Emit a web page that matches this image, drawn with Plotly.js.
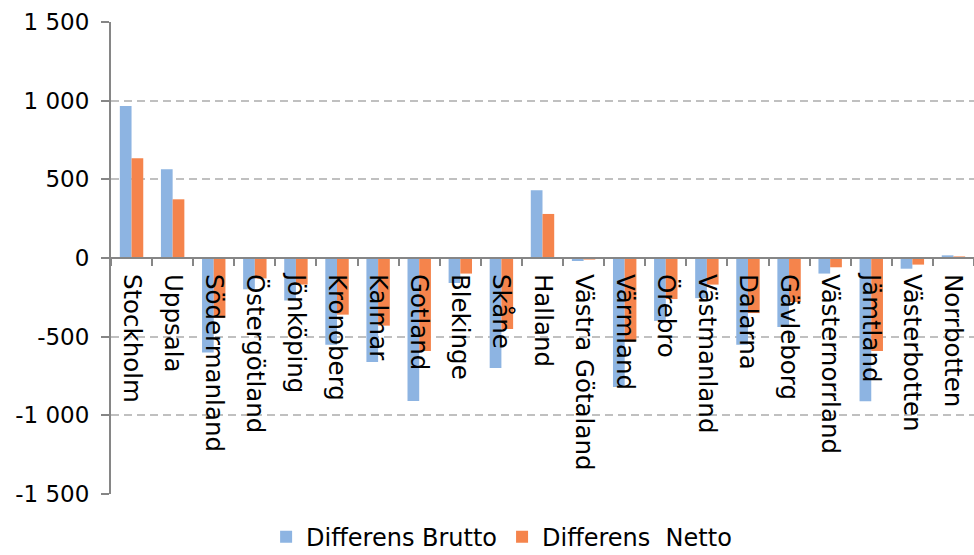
<!DOCTYPE html>
<html>
<head>
<meta charset="utf-8">
<script src="https://cdn.plot.ly/plotly-3.0.1.min.js"></script>
<style>html,body{margin:0;padding:0;background:#fff;}#chart{width:974px;height:555px;}</style>
</head>
<body>
<div id="chart"></div>
<script>
const categories = ["Stockholm","Uppsala","Södermanland","Östergötland","Jönköping","Kronoberg","Kalmar","Gotland","Blekinge","Skåne","Halland","Västra Götaland","Värmland","Örebro","Västmanland","Dalarna","Gävleborg","Västernorrland","Jämtland","Västerbotten","Norrbotten"];
const brutto = [966, 564, -600, -199, -270, -551, -661, -909, -159, -699, 430, -19, -820, -400, -255, -551, -439, -99, -911, -68, 17];
const netto = [634, 373, -380, -130, -169, -360, -430, -591, -99, -451, 280, -10, -531, -261, -169, -350, -280, -59, -591, -42, 10];
const seriesNames = ["Differens Brutto", "Differens\u00a0 Netto"];
const yTickVals = [-1500, -1000, -500, 0, 500, 1000, 1500];
const yTickText = ["-1 500", "-1 000", "-500", "0", "500", "1 000", "1 500"];

const fam = "DejaVu Sans, Verdana, sans-serif";
const xFont = {family: fam, size: 24.5, color: "#000"};
const yFont = {family: fam, size: 23, color: "#000"};
const legFont = {family: fam, size: 24, color: "#000"};

const traces = [
  {type: "bar", x: categories, y: brutto, name: seriesNames[0], marker: {color: "#8DB4E2"}},
  {type: "bar", x: categories, y: netto, name: seriesNames[1], marker: {color: "#F5844C"}}
];

const layout = {
  width: 974, height: 555,
  margin: {l: 111, r: 0, t: 22, b: 61, autoexpand: false},
  paper_bgcolor: "#fff", plot_bgcolor: "#fff",
  font: yFont,
  barmode: "group",
  bargap: 0.43,
  bargroupgap: 0,
  showlegend: true,
  legend: {orientation: "h", xref: "container", x: 0.515, xanchor: "center", yref: "container", y: 0.032, yanchor: "middle", font: legFont, itemwidth: 30, tracegroupgap: 0},
  xaxis: {
    type: "category",
    anchor: "free", position: 0.5,
    tickangle: 90,
    showline: true, linecolor: "#868686", linewidth: 2,
    ticks: "outside", tickson: "boundaries", ticklen: 7, tickcolor: "#868686", tickwidth: 2,
    showgrid: false, zeroline: false,
    automargin: false,
    ticklabelstandoff: 10,
    tickfont: xFont,
    range: [-0.5, 20.5]
  },
  yaxis: {
    range: [-1500, 1500],
    tickvals: yTickVals, ticktext: yTickText,
    showline: true, linecolor: "#868686", linewidth: 2,
    ticks: "outside", ticklen: 8, tickcolor: "#868686", tickwidth: 2,
    showgrid: true, gridcolor: "#c0c0c0", gridwidth: 2, griddash: "8px,5px",
    zeroline: false,
    automargin: false,
    ticklabelstandoff: 7,
    tickfont: yFont
  }
};

Plotly.newPlot("chart", traces, layout, {displayModeBar: false, staticPlot: true});
</script>
</body>
</html>
